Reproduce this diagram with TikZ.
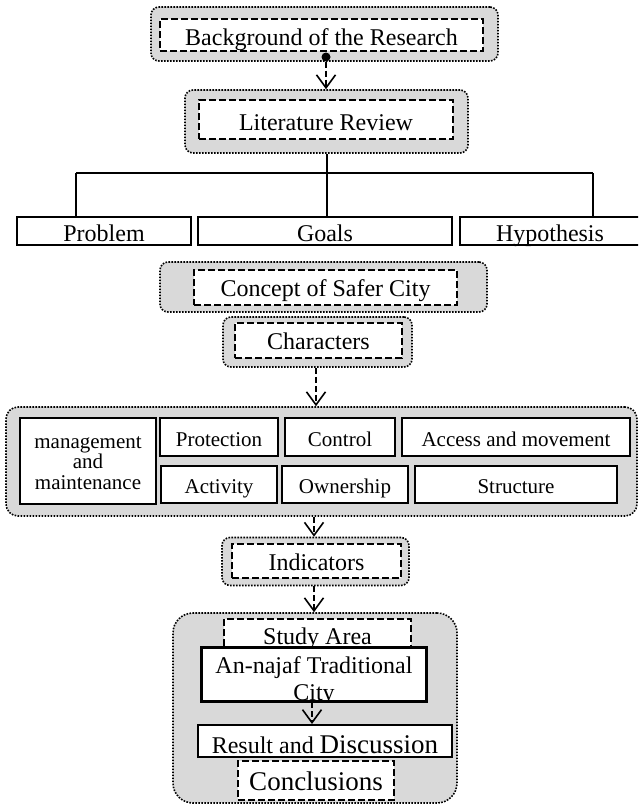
\documentclass[tikz,border=0pt]{standalone}
\usepackage{fontspec}
\setmainfont{Liberation Serif}
\usetikzlibrary{arrows.meta}
\definecolor{boxgray}{RGB}{217,217,217}
\begin{document}
\begin{tikzpicture}[x=1pt,y=-1pt,
  big/.style={font=\fontsize{24}{27}\selectfont, text height=20pt, text depth=2pt},
  low/.style={text height=22pt, text depth=1pt},
  small/.style={font=\fontsize{21}{20.5}\selectfont, text height=19pt, text depth=1pt},
  outerbox/.style={draw, line width=1.6pt, dash pattern=on 1.6pt off 1.4pt, fill=boxgray, rounded corners=8pt, inner sep=0pt},
  innerbox/.style={draw, line width=1.8pt, dash pattern=on 7pt off 3pt, fill=white, inner sep=0pt},
  solidbox/.style={draw, line width=2pt, fill=white, inner sep=0pt},
  dasharrow/.style={line width=1.6pt, dash pattern=on 6pt off 3pt, -{Straight Barb[length=13pt,width=19pt,line width=1.6pt]}},
  tree/.style={line width=2pt}
]
\useasboundingbox (0,0) rectangle (638,806);
\clip (0,0) rectangle (638,806);

% Background
\node[outerbox, minimum width=347pt, minimum height=54pt] (bgO) at (324.5,34) {};
\node[innerbox, big, low, minimum width=323pt, minimum height=32pt] (bg) at (321.5,35) {Background of the Research};
\node[circle, fill=black, inner sep=0pt, minimum size=9pt] (dot) at (326,57) {};

% Literature review
\node[outerbox, minimum width=283pt, minimum height=63pt] (litO) at (326.5,121.5) {};
\node[innerbox, big, low, minimum width=254pt, minimum height=39pt] (lit) at (326,119.5) {Literature Review};
\draw[dasharrow] (dot) -- (dot |- litO.north);

% Problem / Goals / Hypothesis
\node[solidbox, big, low, minimum width=174pt, minimum height=28pt] (prob) at (104,231) {Problem};
\node[solidbox, big, low, minimum width=254pt, minimum height=28pt] (goals) at (325,231) {Goals};
\node[solidbox, big, low, minimum width=180pt, minimum height=28pt] (hyp) at (550,231) {Hypothesis};
\coordinate (hl) at (76,173);
\coordinate (hr) at (593,173);
\draw[tree] (litO.south) -- (litO.south |- hl);
\draw[tree] (hl) -- (hr);
\draw[tree] (hl) -- (hl |- prob.north);
\draw[tree] (litO.south |- hl) -- (litO.south |- goals.north);
\draw[tree] (hr) -- (hr |- hyp.north);

% Concept of Safer City
\node[outerbox, minimum width=327pt, minimum height=50pt] (conO) at (323.5,287) {};
\node[innerbox, big, minimum width=263pt, minimum height=35pt] (con) at (325.5,287.5) {Concept of Safer City};

% Characters
\node[outerbox, minimum width=189pt, minimum height=50pt] (chaO) at (317.5,342) {};
\node[innerbox, big, minimum width=167pt, minimum height=35pt] (cha) at (318.5,340.5) {Characters};

% Big group
\node[outerbox, rounded corners=12pt, minimum width=631pt, minimum height=109pt] (grpO) at (321.5,461.5) {};
\node[solidbox, minimum width=136pt, minimum height=86pt] (mgmt) at (88,461) {};
\node[font=\fontsize{21}{20.5}\selectfont, align=center, inner sep=0pt] (mgmtt) at (88,463) {management\\and\\maintenance};
\node[solidbox, small, minimum width=118pt, minimum height=38pt] (prot) at (219,437) {Protection};
\node[solidbox, small, minimum width=110pt, minimum height=38pt] (ctrl) at (340,437) {Control};
\node[solidbox, small, minimum width=228pt, minimum height=38pt] (acc) at (516,437) {Access and movement};
\node[solidbox, small, minimum width=116pt, minimum height=37pt] (act) at (219,484.5) {Activity};
\node[solidbox, small, minimum width=126pt, minimum height=37pt] (own) at (345,484.5) {Ownership};
\node[solidbox, small, minimum width=202pt, minimum height=37pt] (str) at (516,484.5) {Structure};
\draw[dasharrow] (chaO.south -| 316,0) -- (grpO.north -| 316,0);

% Indicators
\node[outerbox, minimum width=187pt, minimum height=48pt] (indO) at (315.5,561.5) {};
\node[innerbox, big, minimum width=169pt, minimum height=34pt] (ind) at (316.5,561) {Indicators};
\draw[dasharrow] (grpO.south -| 314,0) -- (indO.north -| 314,0);

% Study area group
\node[outerbox, rounded corners=20pt, minimum width=284pt, minimum height=190pt] (stuO) at (315,708) {};
\draw[dasharrow] (indO.south -| 314,0) -- (stuO.north -| 314,0);
\node[innerbox, font=\fontsize{24}{27}\selectfont, text height=18pt, text depth=4pt, minimum width=187pt, minimum height=36pt] (stu) at (317.5,637) {Study Area};
\node[solidbox, minimum width=224pt, minimum height=53pt] (naj) at (314,674.5) {};
\begin{scope}
\clip (naj.south west) rectangle (naj.north east);
\node[align=center, inner sep=0pt, font=\fontsize{24}{27}\selectfont] (najt) at (314,681) {An-najaf Traditional\\City};
\end{scope}
\draw[line width=2pt] (naj.south west) rectangle (naj.north east);
\node[solidbox, font=\fontsize{24}{27}\selectfont, text height=24pt, text depth=0pt, minimum width=254pt, minimum height=32pt] (res) at (325,741) {Result and {\fontsize{27}{30}\selectfont Discussion}};
\draw[dasharrow] (naj.south -| 312,0) -- (res.north -| 312,0);
\node[innerbox, font=\fontsize{27}{30}\selectfont, text height=20pt, text depth=1pt, minimum width=156pt, minimum height=39pt] (conc) at (316,780.5) {Conclusions};
\end{tikzpicture}
\end{document}
